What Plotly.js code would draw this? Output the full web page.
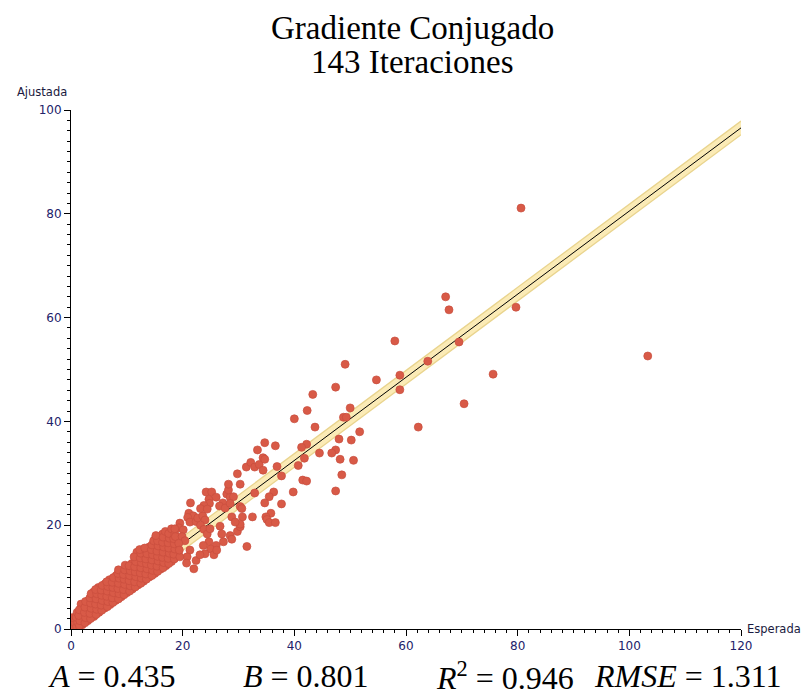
<!DOCTYPE html>
<html><head><meta charset="utf-8">
<script src="https://cdn.plot.ly/plotly-3.0.1.min.js"></script>
<style>html,body{margin:0;padding:0;background:#fff}#chart{width:810px;height:700px}</style>
</head><body><div id="chart"></div>
<script>
// Regression statistics shown under the chart
const A = 0.435, B = 0.801, R2 = 0.946, RMSE = 1.311;
const titleLines = ["Gradiente Conjugado", "143 Iteraciones"];
const xLabel = "Esperada", yLabel = "Ajustada";

// Dense cluster near the origin (Esperada, Ajustada)
const blobX = [
  0.4,0.6,0.3,
  1.0,1.2,0.9,1.1,
  2.0,1.8,2.2,2.0,1.8,
  3.0,3.1,2.9,3.0,3.2,
  4.1,3.9,4.0,4.2,3.9,4.0,
  5.0,5.1,4.9,5.0,5.2,4.9,
  6.0,5.9,6.1,6.0,5.9,6.1,
  7.0,7.1,6.9,7.0,7.2,6.9,
  8.0,7.9,8.1,8.0,7.9,8.1,
  9.0,9.1,8.9,9.0,9.2,8.9,
  10.0,9.9,10.1,10.0,9.9,10.1,
  11.0,11.1,10.9,11.0,11.2,10.9,
  12.0,11.9,12.1,12.0,11.9,12.1,11.8,
  13.0,13.1,12.9,13.0,13.2,12.9,13.1,
  14.0,13.9,14.1,14.0,13.9,14.1,14.0,
  15.0,15.1,14.9,15.0,15.2,14.9,15.0,15.1,
  16.0,15.9,16.1,16.0,15.9,16.1,16.0,16.4,
  17.0,17.1,16.9,17.0,17.2,16.9,17.1,
  18.0,17.9,18.1,18.0,17.9,18.1,18.0
];
const blobY = [
  0.3,1.3,2.2,
  0.4,1.3,2.3,3.2,
  0.8,1.8,2.8,3.8,4.8,
  1.6,2.6,3.6,4.6,5.6,
  2.4,3.4,4.4,5.4,6.3,7.1,
  3.2,4.1,5.1,6.1,7.1,8.0,
  4.0,4.9,5.9,6.9,7.9,8.7,
  4.7,5.7,6.7,7.6,8.6,9.5,
  5.5,6.4,7.4,8.4,9.4,10.3,
  6.2,7.2,8.2,9.2,10.1,11.0,
  7.0,8.0,9.0,9.9,10.9,11.8,
  7.7,8.7,9.7,10.7,11.7,12.6,
  8.5,9.5,10.4,11.4,12.4,13.4,14.8,
  9.2,10.2,11.2,12.2,13.1,14.1,14.9,
  10.0,11.0,11.9,12.9,13.9,14.9,15.8,
  10.7,11.7,12.7,13.7,14.6,15.6,16.5,17.4,
  11.5,12.5,13.4,14.4,15.4,16.4,17.4,18.3,
  12.2,13.2,14.2,15.2,16.2,17.1,18.0,
  13.0,14.0,15.0,15.9,16.9,17.8,18.7
];

// Second, staggered layer of the dense cluster
const blob2X = [
  1.5,1.6,1.4,1.5,
  2.5,2.6,2.4,2.5,2.6,
  3.5,3.4,3.6,3.5,3.4,3.6,
  4.5,4.6,4.4,4.5,4.6,4.4,
  5.5,5.4,5.6,5.5,5.4,5.6,
  6.5,6.6,6.4,6.5,6.6,6.4,
  7.5,7.4,7.6,7.5,7.4,7.6,
  8.5,8.6,8.4,8.5,8.6,8.4,8.5,
  9.5,9.4,9.6,9.5,9.4,9.6,9.7,
  10.5,10.6,10.4,10.5,10.6,10.4,
  11.5,11.4,11.6,11.5,11.4,11.6,11.3,
  12.5,12.6,12.4,12.5,12.6,12.4,12.5,12.3,
  13.5,13.4,13.6,13.5,13.4,13.6,13.2,
  14.5,14.6,14.4,14.5,14.6,14.4,14.5,14.8,
  15.5,15.4,15.6,15.5,15.4,15.6,15.5,15.2,
  16.5,16.6,16.4,16.5,16.6,16.4,16.5,16.9,
  17.5,17.4,17.6,17.5,17.4,17.6,17.5,18.0,
  18.5,18.4,18.6,18.5,18.4,18.6
];
const blob2Y = [
  0.6,1.6,2.6,3.7,
  1.2,2.2,3.2,4.2,5.3,
  2.0,3.0,4.0,5.0,6.0,6.8,
  2.8,3.8,4.8,5.8,6.8,7.6,
  3.6,4.6,5.5,6.5,7.5,8.4,
  4.3,5.3,6.3,7.3,8.2,9.1,
  5.1,6.0,7.0,8.0,9.0,9.9,
  5.8,6.8,7.8,8.8,9.8,10.7,11.4,
  6.6,7.6,8.6,9.6,10.5,11.4,12.3,
  7.3,8.3,9.3,10.3,11.2,12.2,
  8.1,9.1,10.1,11.0,12.0,13.0,13.9,
  8.8,9.8,10.8,11.8,12.8,13.7,14.6,15.3,
  9.6,10.6,11.6,12.6,13.5,14.5,15.6,
  10.3,11.3,12.3,13.3,14.3,15.3,16.2,17.0,
  11.1,12.1,13.1,14.0,15.0,16.0,17.0,18.0,
  11.8,12.8,13.8,14.8,15.8,16.7,17.7,18.8,
  12.6,13.6,14.6,15.6,16.6,17.5,18.4,19.3,
  13.5,14.4,15.4,16.4,17.4,18.3
];

// Looser points between about 18 and 31
const midX = [19.5,19.3,18.6,20.1,18.7,19.9,20.4,19.3,21.1,21.9,20.9,21.3,22.4,22.7,23.6,24.0,23.2,23.8,24.4,24.9,
  26.7,27.0,27.3,26.0,24.7,25.0,23.7,25.6,24.0,28.5,28.8,29.8,30.3,28.8,31.5,22.4,22.0,21.3,20.8,19.5,20.7,23.1,19.4,
  21.4,24.7,24.8,23.8,23.2,24.4,24.2,25.2,26.0,27.9,28.5,28.2,27.2,26.6,27.6,30.3,30.6,30.7,30.3,29.4,29.8,28.2,30.3,
  29.1,28.5,26.1];
const midY = [20.4,19.5,19.3,19.1,17.8,17.8,17.0,16.5,22.3,21.8,21.5,20.6,20.7,21.4,21.8,21.0,20.0,19.2,18.3,19.3,
  19.8,18.3,16.8,16.1,16.8,15.4,16.1,14.3,14.5,18.0,17.3,18.8,19.7,21.6,15.9,13.2,11.6,15.2,13.9,13.9,12.7,14.3,15.2,
  24.3,25.0,24.2,23.8,23.2,23.1,26.4,26.4,25.4,26.0,25.4,26.8,24.3,23.7,23.3,23.6,23.2,21.6,20.2,20.6,29.9,27.9,27.9,
  25.5,24.2,15.2];

// Sparse points at higher values
const tailX = [31.4,32.2,32.9,33.7,34.7,36.6,33.4,42.2,41.3,47.4,46.7,44.5,34.4,34.7,41.8,48.2,50.6,36.9,40.7,34.4,
  37.7,48.5,41.5,42.2,32.9,36.3,39.8,47.4,35.5,34.7,37.7,35.8,34.9,35.1,32.5,35.5,36.6,
  40.0,48.8,49.3,43.7,62.2,51.7,48.0,50.2,42.3,50.0,43.3,47.4,49.1,54.7,58.0,58.9,58.9,63.9,69.5,67.1,67.7,79.7,
  75.6,70.4,103.3,80.6];
const tailY = [31.2,32.1,31.2,31.7,35.9,35.3,34.5,35.6,35.0,34.5,33.9,33.9,33.0,32.7,32.9,32.7,32.5,31.3,31.5,30.6,
  29.5,29.7,28.7,28.5,26.2,26.4,26.4,26.6,25.5,24.3,24.1,22.3,21.6,21.1,21.6,20.5,20.5,
  40.5,40.8,40.8,38.9,38.9,38.0,36.6,36.4,42.1,42.6,45.2,46.6,51.0,48.0,55.5,48.9,46.1,51.6,55.3,64.0,61.5,62.0,
  49.1,43.4,52.6,81.1];

const xRange = [0, 120], yRange = [0, 100];
const xTicks = [0, 20, 40, 60, 80, 100, 120];
const yTicks = [0, 20, 40, 60, 80, 100];

const fitX = [0, 120];
const fitY = fitX.map(x => A + B * x);
const bandLo = fitY.map(y => y - RMSE);
const bandHi = fitY.map(y => y + RMSE);

const ptsX = blobX.concat(blob2X, midX, tailX);
const ptsY = blobY.concat(blob2Y, midY, tailY);

const traces = [
  {x: fitX, y: bandLo, mode: 'lines', line: {color: '#e9d48e', width: 1.3}, hoverinfo: 'skip', showlegend: false},
  {x: fitX, y: bandHi, mode: 'lines', fill: 'tonexty', fillcolor: '#fbebb6', line: {color: '#e9d48e', width: 1.3}, hoverinfo: 'skip', showlegend: false},
  {x: fitX, y: fitY, mode: 'lines', line: {color: '#000000', width: 1}, showlegend: false},
  {x: ptsX, y: ptsY, mode: 'markers', type: 'scatter', showlegend: false,
   marker: {size: 8, color: '#d85a47', line: {color: '#c94d3d', width: 0.7}}}
];

const serif = 'Liberation Serif';
const tickFont = {family: 'DejaVu Sans', size: 12, color: '#22226a'};
const axisBase = {
  showline: true, linecolor: '#000', linewidth: 1, showgrid: false, zeroline: false,
  ticks: 'outside', ticklen: 6, tickcolor: '#000', tickwidth: 1, tickfont: tickFont,
  minor: {dtick: 2, ticks: 'outside', ticklen: 3, tickcolor: '#000', tickwidth: 1, showgrid: false}
};

function ann(text, x, y, xanchor, font) {
  return {text: text, xref: 'paper', yref: 'paper', x: x, y: y, xanchor: xanchor, yanchor: 'middle', showarrow: false, font: font};
}
const titleFont = {family: serif, size: 33, color: '#000'};
const statFont = {family: serif, size: 32, color: '#000'};
const labelFont = {family: 'DejaVu Sans', size: 11.5, color: '#1a1a40'};

const layout = {
  width: 810, height: 700,
  margin: {l: 71, r: 69, t: 110, b: 71},
  paper_bgcolor: '#fff', plot_bgcolor: '#fff',
  showlegend: false,
  xaxis: Object.assign({}, axisBase, {range: xRange, tickvals: xTicks, ticktext: xTicks.map(String)}),
  yaxis: Object.assign({}, axisBase, {range: yRange, tickvals: yTicks, ticktext: yTicks.map(String)}),
  annotations: [
    ann(titleLines[0], 0.509, 1.158, 'center', titleFont),
    ann(titleLines[1], 0.509, 1.0925, 'center', titleFont),
    ann(yLabel, -0.0836, 1.0347, 'left', labelFont),
    ann(xLabel, 1.006, 0.0, 'left', labelFont),
    ann('<i>A</i> = ' + A.toFixed(3), 0.0612, -0.0906, 'center', statFont),
    ann('<i>B</i> = ' + B.toFixed(3), 0.3507, -0.0906, 'center', statFont),
    ann('<i>R</i><sup>2</sup> = ' + R2.toFixed(3), 0.6478, -0.0906, 'center', statFont),
    ann('<i>RMSE</i> = ' + RMSE.toFixed(3), 0.9209, -0.0906, 'center', statFont)
  ]
};

Plotly.newPlot('chart', traces, layout, {staticPlot: true, displayModeBar: false});
</script>
</body></html>
